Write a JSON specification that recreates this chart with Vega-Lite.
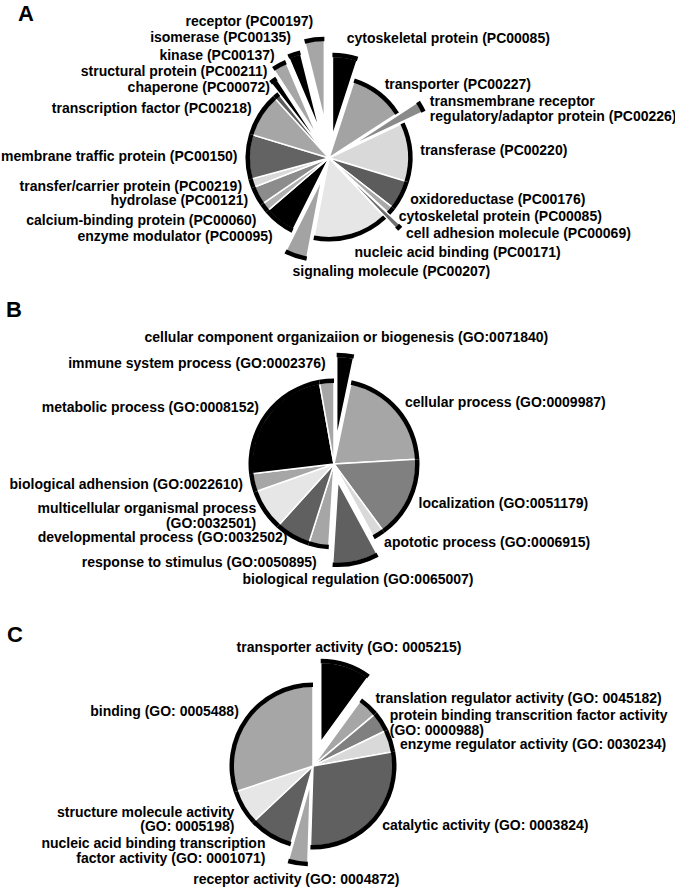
{
  "$schema": "https://vega.github.io/schema/vega-lite/v6.json",
  "autosize": {"type": "pad"},
  "padding": 0,
  "background": "white",
  "config": {"view": {"stroke": null}, "font": "Liberation Sans"},
  "params": [
    {"name": "exA", "value": [22,0,24,0,0,0,17,0,22,0,0,0,0,0,0,0,14,24,28,38]},
    {"name": "exB", "value": [26,0,0,0,18,0,0,0,0,0,0]},
    {"name": "exC", "value": [25,0,0,0,0,17,0,0,0]}
  ],
  "datasets": {
    "A": [
      {"n": 1, "label": "cytoskeletal protein (PC00085)", "pct": 5.0},
      {"n": 2, "label": "transporter (PC00227)", "pct": 10.8},
      {"n": 3, "label": "transmembrane receptor\nregulatory/adaptor protein (PC00226)", "pct": 2.2},
      {"n": 4, "label": "transferase (PC00220)", "pct": 11.7},
      {"n": 5, "label": "oxidoreductase (PC00176)", "pct": 5.8},
      {"n": 6, "label": "cytoskeletal protein (PC00085)", "pct": 1.4},
      {"n": 7, "label": "cell adhesion molecule (PC00069)", "pct": 1.1},
      {"n": 8, "label": "nucleic acid binding (PC00171)", "pct": 15.0},
      {"n": 9, "label": "signaling molecule (PC00207)", "pct": 4.4},
      {"n": 10, "label": "enzyme modulator (PC00095)", "pct": 6.3},
      {"n": 11, "label": "calcium-binding protein (PC00060)", "pct": 1.7},
      {"n": 12, "label": "hydrolase (PC00121)", "pct": 3.7},
      {"n": 13, "label": "transfer/carrier protein (PC00219)", "pct": 1.7},
      {"n": 14, "label": "membrane traffic protein (PC00150)", "pct": 8.9},
      {"n": 15, "label": "transcription factor (PC00218)", "pct": 8.6},
      {"n": 16, "label": "chaperone (PC00072)", "pct": 1.1},
      {"n": 17, "label": "structural protein (PC00211)", "pct": 1.4},
      {"n": 18, "label": "kinase (PC00137)", "pct": 2.8},
      {"n": 19, "label": "isomerase (PC00135)", "pct": 2.5},
      {"n": 20, "label": "receptor (PC00197)", "pct": 3.9}
    ],
    "B": [
      {"n": 1, "label": "cellular component organizaiion  or biogenesis (GO:0071840)", "pct": 3.3},
      {"n": 2, "label": "cellular process (GO:0009987)", "pct": 20.8},
      {"n": 3, "label": "localization (GO:0051179)", "pct": 15.8},
      {"n": 4, "label": "apototic process (GO:0006915)", "pct": 2.2},
      {"n": 5, "label": "biological regulation (GO:0065007)", "pct": 8.9},
      {"n": 6, "label": "response to stimulus (GO:0050895)", "pct": 3.9},
      {"n": 7, "label": "developmental process (GO:0032502)", "pct": 6.8},
      {"n": 8, "label": "multicellular organismal process\n(GO:0032501)", "pct": 7.9},
      {"n": 9, "label": "biological adhension (GO:0022610)", "pct": 3.5},
      {"n": 10, "label": "metabolic process (GO:0008152)", "pct": 24.1},
      {"n": 11, "label": "immune system process (GO:0002376)", "pct": 2.8}
    ],
    "C": [
      {"n": 1, "label": "transporter activity (GO: 0005215)", "pct": 10.0},
      {"n": 2, "label": "translation regulator activity (GO: 0045182)", "pct": 3.9},
      {"n": 3, "label": "protein binding transcrition factor activity\n(GO: 0000988)", "pct": 3.9},
      {"n": 4, "label": "enzyme regulator activity (GO: 0030234)", "pct": 4.4},
      {"n": 5, "label": "catalytic activity (GO: 0003824)", "pct": 28.3},
      {"n": 6, "label": "receptor activity (GO: 0004872)", "pct": 3.9},
      {"n": 7, "label": "nucleic acid binding transcription\nfactor activity (GO: 0001071)", "pct": 8.6},
      {"n": 8, "label": "structure molecule activity\n(GO: 0005198)", "pct": 6.9},
      {"n": 9, "label": "binding (GO: 0005488)", "pct": 30.1}
    ]
  },
  "spacing": 0,
  "bounds": "flush",
  "resolve": {"scale": {"theta": "independent", "color": "independent"}},
  "vconcat": [
    {
      "data": {"name": "A"},
      "width": 656,
      "height": 316,
      "title": {"text": "A", "anchor": "start", "frame": "group", "fontSize": 22, "fontWeight": "bold", "font": "Liberation Sans", "color": "black", "baseline": "alphabetic", "offset": -43, "dx": 17},
      "layer": [
        {
          "mark": {"type": "arc", "radius": 80, "stroke": "white", "strokeWidth": 1.5,
            "xOffset": {"expr": "exA[datum.n-1]*sin((datum.pct_start+datum.pct_end)*PI/100)"},
            "yOffset": {"expr": "-exA[datum.n-1]*cos((datum.pct_start+datum.pct_end)*PI/100)"}},
          "encoding": {
            "theta": {"field": "pct", "type": "quantitative", "stack": true},
            "order": {"field": "n", "type": "quantitative"},
            "color": {"field": "n", "type": "nominal", "legend": null,
              "scale": {"domain": [1,2,3,4,5,6,7,8,9,10,11,12,13,14,15,16,17,18,19,20],
                "range": ["#000000","#a3a3a3","#8a8a8a","#d9d9d9","#5c5c5c","#a8a8a8","#6e6e6e","#e6e6e6","#a3a3a3","#000000","#b0b0b0","#8c8c8c","#d9d9d9","#636363","#a6a6a6","#5c5c5c","#000000","#a6a6a6","#000000","#a6a6a6"]}}
          }
        },
        {
          "mark": {"type": "arc", "radius": 83.5, "radius2": 79, "fill": "black",
            "xOffset": {"expr": "exA[datum.n-1]*sin((datum.pct_start+datum.pct_end)*PI/100)"},
            "yOffset": {"expr": "-exA[datum.n-1]*cos((datum.pct_start+datum.pct_end)*PI/100)"}},
          "encoding": {
            "theta": {"field": "pct", "type": "quantitative", "stack": true},
            "order": {"field": "n", "type": "quantitative"}
          }
        },
        {
          "mark": {"type": "text", "font": "Liberation Sans", "fontSize": 14, "fontWeight": "bold", "color": "black", "lineBreak": "\n", "lineHeight": 15,
            "radius": {"expr": "91.5+exA[datum.n-1]"},
            "align": {"expr": "(datum.pct_start+datum.pct_end)*1.8 < 205 ? 'left' : 'right'"},
            "baseline": {"expr": "((datum.pct_start+datum.pct_end)*1.8 < 25 || (datum.pct_start+datum.pct_end)*1.8 > 335) ? 'bottom' : ((datum.pct_start+datum.pct_end)*1.8 > 150 && (datum.pct_start+datum.pct_end)*1.8 < 240) ? 'top' : 'middle'"}},
          "encoding": {
            "theta": {"field": "pct", "type": "quantitative", "stack": true},
            "order": {"field": "n", "type": "quantitative"},
            "text": {"field": "label", "type": "nominal"}
          }
        }
      ]
    },
    {
      "data": {"name": "B"},
      "width": 666,
      "height": 296,
      "title": {"text": "B", "anchor": "start", "frame": "group", "fontSize": 22, "fontWeight": "bold", "font": "Liberation Sans", "color": "black", "baseline": "alphabetic", "offset": -23, "dx": 5},
      "layer": [
        {
          "mark": {"type": "arc", "radius": 82, "stroke": "white", "strokeWidth": 1.5,
            "xOffset": {"expr": "exB[datum.n-1]*sin((datum.pct_start+datum.pct_end)*PI/100)"},
            "yOffset": {"expr": "-exB[datum.n-1]*cos((datum.pct_start+datum.pct_end)*PI/100)"}},
          "encoding": {
            "theta": {"field": "pct", "type": "quantitative", "stack": true},
            "order": {"field": "n", "type": "quantitative"},
            "color": {"field": "n", "type": "nominal", "legend": null,
              "scale": {"domain": [1,2,3,4,5,6,7,8,9,10,11],
                "range": ["#000000","#a6a6a6","#808080","#d9d9d9","#606060","#a6a6a6","#606060","#e6e6e6","#a6a6a6","#000000","#a6a6a6"]}}
          }
        },
        {
          "mark": {"type": "arc", "radius": 85.5, "radius2": 81, "fill": "black",
            "xOffset": {"expr": "exB[datum.n-1]*sin((datum.pct_start+datum.pct_end)*PI/100)"},
            "yOffset": {"expr": "-exB[datum.n-1]*cos((datum.pct_start+datum.pct_end)*PI/100)"}},
          "encoding": {
            "theta": {"field": "pct", "type": "quantitative", "stack": true},
            "order": {"field": "n", "type": "quantitative"}
          }
        },
        {
          "mark": {"type": "text", "font": "Liberation Sans", "fontSize": 14, "fontWeight": "bold", "color": "black", "lineBreak": "\n", "lineHeight": 15,
            "radius": {"expr": "93.5+exB[datum.n-1]"},
            "align": {"expr": "(datum.pct_start+datum.pct_end)*1.8 < 12 ? 'center' : (datum.pct_start+datum.pct_end)*1.8 < 160 ? 'left' : (datum.pct_start+datum.pct_end)*1.8 < 185 ? 'center' : 'right'"},
            "baseline": {"expr": "((datum.pct_start+datum.pct_end)*1.8 < 25 || (datum.pct_start+datum.pct_end)*1.8 > 335) ? 'bottom' : ((datum.pct_start+datum.pct_end)*1.8 > 150 && (datum.pct_start+datum.pct_end)*1.8 < 200) ? 'top' : ((datum.pct_start+datum.pct_end)*1.8 >= 200 && (datum.pct_start+datum.pct_end)*1.8 < 250) ? 'bottom' : 'middle'"}},
          "encoding": {
            "theta": {"field": "pct", "type": "quantitative", "stack": true},
            "order": {"field": "n", "type": "quantitative"},
            "text": {"field": "label", "type": "nominal"}
          }
        }
      ]
    },
    {
      "data": {"name": "C"},
      "width": 624,
      "height": 308,
      "title": {"text": "C", "anchor": "start", "frame": "group", "fontSize": 22, "fontWeight": "bold", "font": "Liberation Sans", "color": "black", "baseline": "alphabetic", "offset": -52, "dx": 6},
      "layer": [
        {
          "mark": {"type": "arc", "radius": 80, "stroke": "white", "strokeWidth": 1.5,
            "xOffset": {"expr": "exC[datum.n-1]*sin((datum.pct_start+datum.pct_end)*PI/100)"},
            "yOffset": {"expr": "-exC[datum.n-1]*cos((datum.pct_start+datum.pct_end)*PI/100)"}},
          "encoding": {
            "theta": {"field": "pct", "type": "quantitative", "stack": true},
            "order": {"field": "n", "type": "quantitative"},
            "color": {"field": "n", "type": "nominal", "legend": null,
              "scale": {"domain": [1,2,3,4,5,6,7,8,9],
                "range": ["#000000","#a6a6a6","#808080","#d9d9d9","#606060","#a6a6a6","#606060","#e6e6e6","#a6a6a6"]}}
          }
        },
        {
          "mark": {"type": "arc", "radius": 83.5, "radius2": 79, "fill": "black",
            "xOffset": {"expr": "exC[datum.n-1]*sin((datum.pct_start+datum.pct_end)*PI/100)"},
            "yOffset": {"expr": "-exC[datum.n-1]*cos((datum.pct_start+datum.pct_end)*PI/100)"}},
          "encoding": {
            "theta": {"field": "pct", "type": "quantitative", "stack": true},
            "order": {"field": "n", "type": "quantitative"}
          }
        },
        {
          "mark": {"type": "text", "font": "Liberation Sans", "fontSize": 14, "fontWeight": "bold", "color": "black", "lineBreak": "\n", "lineHeight": 14.5,
            "radius": {"expr": "91.5+exC[datum.n-1]"},
            "align": {"expr": "(datum.pct_start+datum.pct_end)*1.8 < 25 ? 'center' : (datum.pct_start+datum.pct_end)*1.8 < 180 ? 'left' : (datum.pct_start+datum.pct_end)*1.8 < 200 ? 'center' : 'right'"},
            "baseline": {"expr": "((datum.pct_start+datum.pct_end)*1.8 < 25 || (datum.pct_start+datum.pct_end)*1.8 > 335) ? 'bottom' : ((datum.pct_start+datum.pct_end)*1.8 > 65 && (datum.pct_start+datum.pct_end)*1.8 < 80) ? 'top' : ((datum.pct_start+datum.pct_end)*1.8 > 150 && (datum.pct_start+datum.pct_end)*1.8 < 210) ? 'top' : 'middle'"}},
          "encoding": {
            "theta": {"field": "pct", "type": "quantitative", "stack": true},
            "order": {"field": "n", "type": "quantitative"},
            "text": {"field": "label", "type": "nominal"}
          }
        }
      ]
    }
  ]
}
